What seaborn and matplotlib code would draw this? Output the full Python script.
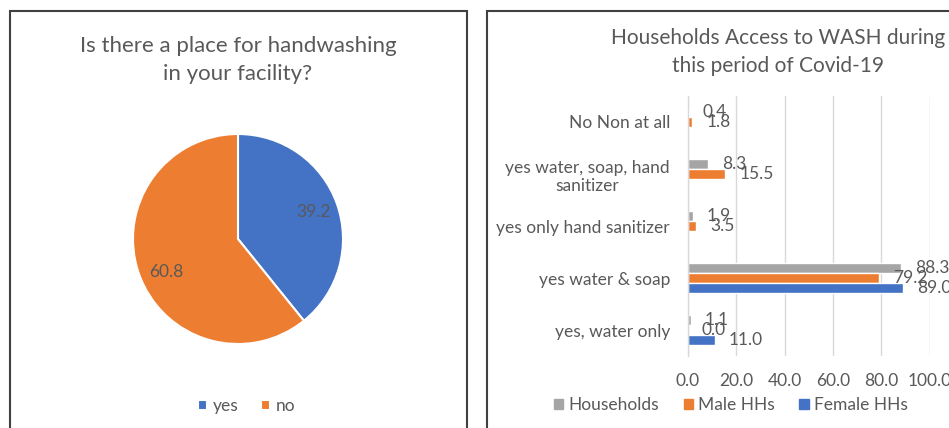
import numpy as np
import pandas as pd
import matplotlib
matplotlib.use("Agg")
import matplotlib.pyplot as plt
from matplotlib.patches import Rectangle
import seaborn as sns

# Pie: handwashing place in the facility
pie_labels = ["yes", "no"]
pie_values = [39.2, 60.8]

# Bars: household access to WASH during Covid-19
categories = ["No Non at all", "yes water, soap, hand\nsanitizer",
              "yes only hand sanitizer", "yes water & soap", "yes, water only"]
series = ["Households", "Male HHs", "Female HHs"]
households = [0.4, 8.3, 1.9, 88.3, 1.1]
male_hhs = [1.8, 15.5, 3.5, 79.2, 0.0]
female_hhs = [np.nan, np.nan, np.nan, 89.0, 11.0]
x_ticks = [0, 20, 40, 60, 80, 100]

BLUE, ORANGE, GRAY = "#4472C4", "#ED7D31", "#A5A5A5"
TXT = "#595959"
GRID = "#D9D9D9"

sns.set_theme(style="white")
plt.rcParams["font.family"] = ["Lato", "DejaVu Sans"]

W, H = 949, 428
fig = plt.figure(figsize=(W / 100, H / 100), dpi=100)


def fx(px):
    return px / W


def fy(py):
    return 1 - py / H


# heading line above the panels (cut by the top edge)
fig.text(fx(0), fy(-4), "Figure 5(a, b): Handwashing facility and access to WASH, percent",
         fontsize=14, fontweight="bold", color="black", va="baseline", ha="left")

# panel frames
for x0, x1 in [(10, 467), (487, 960)]:
    fig.patches.append(Rectangle((fx(x0), fy(440)), fx(x1) - fx(x0), fy(11) - fy(440),
                                 transform=fig.transFigure, fill=False,
                                 edgecolor="#404040", linewidth=1.5))

# ---- pie panel ----
ax_p = fig.add_axes([fx(133), fy(344), fx(343) - fx(133), fy(134) - fy(344)])
wedges, texts = ax_p.pie(pie_values, colors=[BLUE, ORANGE], startangle=90,
                         counterclock=False, labels=[f"{v:.1f}" for v in pie_values],
                         labeldistance=0.76,
                         wedgeprops=dict(edgecolor="white", linewidth=1.5),
                         textprops=dict(color=TXT, fontsize=12.5, ha="center", va="center"))
texts[1].set_position((-0.68, -0.31))
ax_p.set_xlim(-1.0, 1.0)
ax_p.set_ylim(-1.0, 1.0)
ax_p.set_aspect("equal")

fig.text(fx(238), fy(60), "Is there a place for handwashing\nin your facility?",
         ha="center", va="center", fontsize=16, color=TXT, linespacing=1.5)
fig.legend(wedges, pie_labels, loc="center", bbox_to_anchor=(fx(247), fy(406)),
           ncol=2, frameon=False, fontsize=12.5, labelcolor=TXT,
           handlelength=0.5, handleheight=0.5, handletextpad=0.35, columnspacing=1.3)

# ---- bar panel ----
df = pd.DataFrame({
    "category": categories * 3,
    "series": [s for s in series for _ in categories],
    "value": households + male_hhs + female_hhs,
}).dropna()

ax_b = fig.add_axes([fx(688), fy(356), fx(929.5) - fx(688), fy(96) - fy(356)])
sns.barplot(data=df, y="category", x="value", hue="series", order=categories,
            hue_order=series, palette=[GRAY, ORANGE, BLUE], width=0.58,
            orient="h", errorbar=None, saturation=1, ax=ax_b, legend=False)

for cont in ax_b.containers:
    ax_b.bar_label(cont, fmt="%.1f", padding=10, color=TXT, fontsize=12.5)

ax_b.set_xlim(0, 100)
ax_b.set_xticks(x_ticks)
ax_b.set_xticklabels([f"{t:.1f}" for t in x_ticks])
ax_b.xaxis.grid(True, color=GRID, linewidth=1)
ax_b.set_axisbelow(True)
for s in ["top", "right", "bottom"]:
    ax_b.spines[s].set_visible(False)
ax_b.spines["left"].set_color(GRID)
ax_b.spines["left"].set_linewidth(1)
ax_b.tick_params(axis="x", length=0, pad=12, labelsize=12.5, labelcolor=TXT)
ax_b.tick_params(axis="y", length=0, pad=13, labelsize=12.5, labelcolor=TXT)
for lbl in ax_b.get_yticklabels():
    lbl.set_multialignment("center")
ax_b.set_xlabel("")
ax_b.set_ylabel("")

fig.text(fx(778), fy(52), "Households Access to WASH during\nthis period of Covid-19",
         ha="center", va="center", fontsize=15, color=TXT, linespacing=1.5)

handles = [Rectangle((0, 0), 1, 1, color=c) for c in [GRAY, ORANGE, BLUE]]
fig.legend(handles, series, loc="center", bbox_to_anchor=(fx(731), fy(405)),
           ncol=3, frameon=False, fontsize=12.5, labelcolor=TXT,
           handlelength=0.55, handleheight=0.55, handletextpad=0.3, columnspacing=1.4)

fig.savefig("out.png", dpi=100)
